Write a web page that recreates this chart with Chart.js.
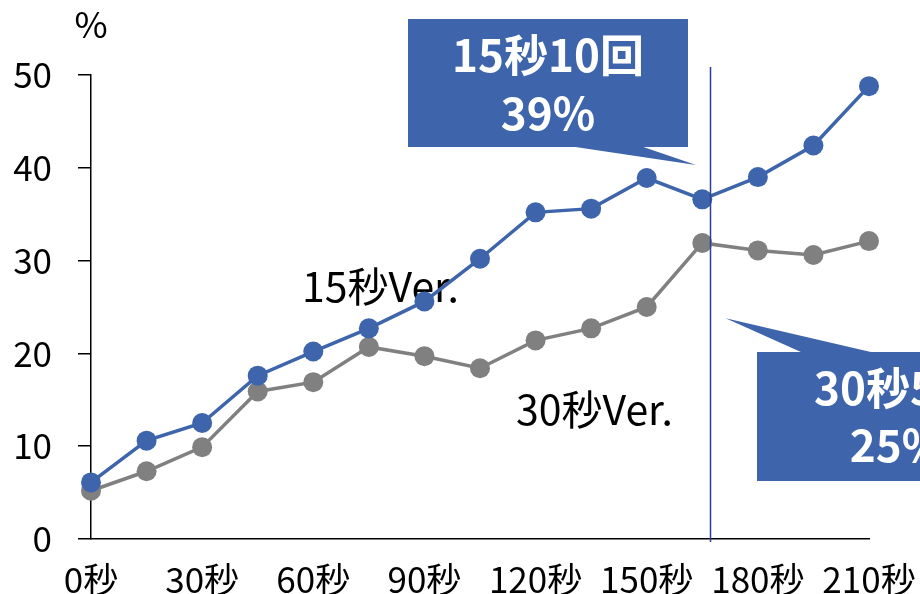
<!DOCTYPE html>
<html>
<head>
<meta charset="utf-8">
<script src="https://cdn.jsdelivr.net/npm/chart.js@4.4.1/dist/chart.umd.min.js"></script>
<style>
  html, body { margin: 0; padding: 0; background: #fff; }
  #wrap { width: 920px; height: 594px; }
</style>
</head>
<body>
<div id="wrap"><canvas id="c" width="920" height="594"></canvas></div>
<script>
// Elapsed time (seconds) and the share (%) reached at each point
const seconds = [0, 15, 30, 45, 60, 75, 90, 105, 120, 135, 150, 165, 180, 195, 210];
const ver15 = [6.1, 10.6, 12.5, 17.6, 20.2, 22.7, 25.6, 30.2, 35.2, 35.6, 38.9, 36.6, 39.0, 42.4, 48.8];
const ver30 = [5.2, 7.3, 9.9, 15.9, 16.9, 20.7, 19.7, 18.4, 21.4, 22.7, 25.0, 31.9, 31.1, 30.6, 32.1];
const xTickValues = [0, 30, 60, 90, 120, 150, 180, 210];
const yTickValues = [0, 10, 20, 30, 40, 50];

const seriesNames = ['15秒Ver.', '30秒Ver.'];
const markerSecond = 167;
const callouts = [
  { lines: ['15秒10回', '39%'], tip: { x: 163.3, y: 40.3 } },
  { lines: ['30秒5回', '25%'], tip: { x: 171.3, y: 23.8 } }
];

const BLUE = '#3E65AB';
const GREY = '#808080';
const FONT = '"Noto Sans CJK JP", "Noto Sans", sans-serif';

const toPoints = ys => seconds.map((s, i) => ({ x: s, y: ys[i] }));

// Series names sit underneath the lines; marker line and callouts go on top
const overlay = {
  id: 'overlay',
  beforeDatasetsDraw(chart) {
    const { ctx } = chart;
    ctx.save();
    ctx.fillStyle = '#000';
    ctx.font = '41px ' + FONT;
    ctx.textAlign = 'left';
    ctx.textBaseline = 'alphabetic';
    ctx.fillText(seriesNames[0], 302, 302);
    ctx.fillText(seriesNames[1], 516, 425);
    ctx.restore();
  },
  afterDatasetsDraw(chart) {
    const { ctx, scales: { x, y }, chartArea } = chart;
    ctx.save();

    // unit label above the value axis
    ctx.fillStyle = '#000';
    ctx.font = '36px ' + FONT;
    ctx.textAlign = 'center';
    ctx.textBaseline = 'alphabetic';
    ctx.fillText('%', chartArea.left, 38);

    // vertical marker
    const mx = Math.round(x.getPixelForValue(markerSecond)) + 0.5;
    ctx.strokeStyle = '#2F3F98';
    ctx.lineWidth = 1.5;
    ctx.beginPath();
    ctx.moveTo(mx, 67);
    ctx.lineTo(mx, chartArea.bottom + 3);
    ctx.stroke();

    // callout 1 (above, pointer from its lower edge)
    let c = callouts[0];
    let bx = 408, by = 19, bw = 280, bh = 128;
    let tx = x.getPixelForValue(c.tip.x), ty = y.getPixelForValue(c.tip.y);
    ctx.fillStyle = BLUE;
    ctx.fillRect(bx, by, bw, bh);
    ctx.beginPath();
    ctx.moveTo(572, by + bh - 0.5);
    ctx.lineTo(642, by + bh - 0.5);
    ctx.lineTo(tx, ty);
    ctx.closePath();
    ctx.fill();
    ctx.fillStyle = '#fff';
    ctx.font = 'bold 44px ' + FONT;
    ctx.textAlign = 'center';
    ctx.fillText(c.lines[0], bx + bw / 2, 72);
    ctx.fillText(c.lines[1], bx + bw / 2, 130);

    // callout 2 (below, pointer from its upper edge)
    c = callouts[1];
    bx = 757; by = 352; bw = 280; bh = 129;
    tx = x.getPixelForValue(c.tip.x); ty = y.getPixelForValue(c.tip.y);
    ctx.fillStyle = BLUE;
    ctx.fillRect(bx, by, bw, bh);
    ctx.beginPath();
    ctx.moveTo(802, by + 0.5);
    ctx.lineTo(873, by + 0.5);
    ctx.lineTo(tx, ty);
    ctx.closePath();
    ctx.fill();
    ctx.fillStyle = '#fff';
    ctx.fillText(c.lines[0], bx + bw / 2, 405);
    ctx.fillText(c.lines[1], bx + bw / 2, 462);

    ctx.restore();
  }
};

new Chart(document.getElementById('c'), {
  type: 'line',
  data: {
    datasets: [
      {
        label: seriesNames[0],
        data: toPoints(ver15),
        borderColor: BLUE,
        backgroundColor: BLUE,
        borderWidth: 3.5,
        pointRadius: 10,
        pointBorderWidth: 0,
        pointBackgroundColor: BLUE,
        clip: false,
        order: 1
      },
      {
        label: seriesNames[1],
        data: toPoints(ver30),
        borderColor: GREY,
        backgroundColor: GREY,
        borderWidth: 3.5,
        pointRadius: 10,
        pointBorderWidth: 0,
        pointBackgroundColor: GREY,
        clip: false,
        order: 2
      }
    ]
  },
  options: {
    responsive: false,
    animation: false,
    events: [],
    layout: { padding: { top: 75, right: 51, left: 0, bottom: 0 } },
    plugins: { legend: { display: false }, tooltip: { enabled: false } },
    scales: {
      x: {
        type: 'linear',
        min: seconds[0],
        max: seconds[seconds.length - 1],
        afterBuildTicks: s => { s.ticks = xTickValues.map(v => ({ value: v })); },
        afterFit: s => { s.height = 55; s.paddingLeft = 0; s.paddingRight = 0; },
        grid: { display: false },
        border: { display: true, color: '#000', width: 1.5 },
        ticks: {
          color: '#000',
          font: { family: FONT, size: 35 },
          padding: 12,
          maxRotation: 0,
          autoSkip: false,
          callback: v => v + '秒'
        }
      },
      y: {
        min: 0,
        max: 50,
        afterBuildTicks: s => { s.ticks = yTickValues.map(v => ({ value: v })); },
        afterFit: s => { s.width = 91; s.paddingTop = 0; s.paddingBottom = 0; },
        grid: {
          display: true,
          drawOnChartArea: false,
          drawTicks: true,
          tickLength: 13,
          color: '#000',
          lineWidth: 1.5
        },
        border: { display: true, color: '#000', width: 1.5 },
        ticks: {
          color: '#000',
          font: { family: FONT, size: 35 },
          padding: 26
        }
      }
    }
  },
  plugins: [overlay]
});
</script>
</body>
</html>
